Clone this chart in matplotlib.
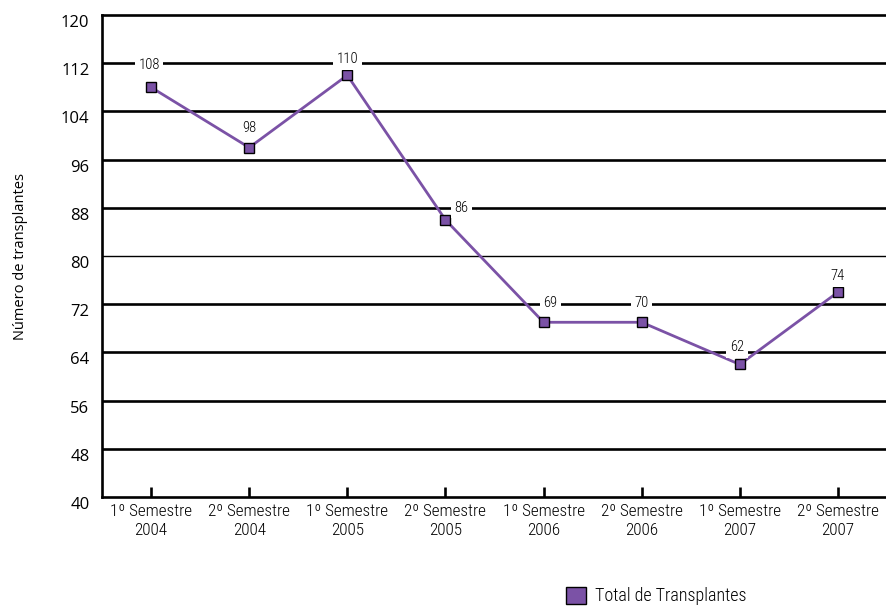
import matplotlib
matplotlib.use('Agg')
import matplotlib.pyplot as plt
from matplotlib.patches import Patch

# data
categories = ['1º Semestre\n2004', '2º Semestre\n2004', '1º Semestre\n2005', '2º Semestre\n2005',
              '1º Semestre\n2006', '2º Semestre\n2006', '1º Semestre\n2007', '2º Semestre\n2007']
values = [108, 98, 110, 86, 69, 69, 62, 74]
value_labels = ['108', '98', '110', '86', '69', '70', '62', '74']
yticks = [40, 48, 56, 64, 72, 80, 88, 96, 104, 112, 120]

purple = '#7b52a6'
narrow = ['Roboto Condensed', 'DejaVu Sans']
plain = ['Open Sans', 'DejaVu Sans']
wt = 300

# label offsets in pixels (dx, dy)
label_dx = [-2, 0, 0, 16, 7, 0, -3, 0]
label_dy = [22, 20, 16, 12, 19, 19, 17, 16]

fig = plt.figure(figsize=(8.87, 6.07), dpi=100)
ax = fig.add_axes([102/887, 1-497/607, 1-102/887, (497-15)/607])

x = list(range(len(values)))
# grid lines
for v in yticks[1:-1]:
    lw = 1.0 if v == 80 else 1.9
    ax.axhline(v, color='black', lw=lw, zorder=1)

ax.plot(x, values, color=purple, lw=2, marker='s', markersize=7.5,
        markerfacecolor=purple, markeredgecolor='black', markeredgewidth=1, zorder=3)

# value labels
for i, (v, t) in enumerate(zip(values, value_labels)):
    ax.annotate(t, (i, v), xytext=(label_dx[i], label_dy[i]), textcoords='offset pixels',
                ha='center', va='center', fontsize=10.5, family=narrow, fontweight=wt, zorder=4,
                bbox=dict(boxstyle='square,pad=0.25', fc='white', ec='none'))

ax.set_xlim(-0.5, 7.5)
ax.set_ylim(40, 120)
ax.set_yticks(yticks)
ax.set_xticks(x)
ax.set_xticklabels(categories, family=narrow, fontsize=12.3, fontweight=wt, linespacing=1.3)
ax.set_yticklabels([str(t) for t in yticks], family=plain, fontsize=12, va='top')
ax.tick_params(axis='y', length=0, pad=9)
ax.tick_params(axis='x', direction='in', length=7, width=1.9, pad=5)

ax.spines['right'].set_visible(False)
for s in ['top', 'left', 'bottom']:
    ax.spines[s].set_linewidth(1.9)

ax.set_ylabel('Número de transplantes', family=plain, fontsize=10.5, labelpad=24)

leg = fig.legend(handles=[Patch(facecolor=purple, edgecolor='black', lw=1, label='Total de Transplantes')],
                 loc='center left', bbox_to_anchor=(566/887, 1-596/607), frameon=False,
                 borderpad=0, borderaxespad=0, handlelength=1.1, handleheight=1.1,
                 handletextpad=0.5, prop={'family': narrow, 'size': 13, 'weight': wt})

fig.savefig('out.png', dpi=100)
